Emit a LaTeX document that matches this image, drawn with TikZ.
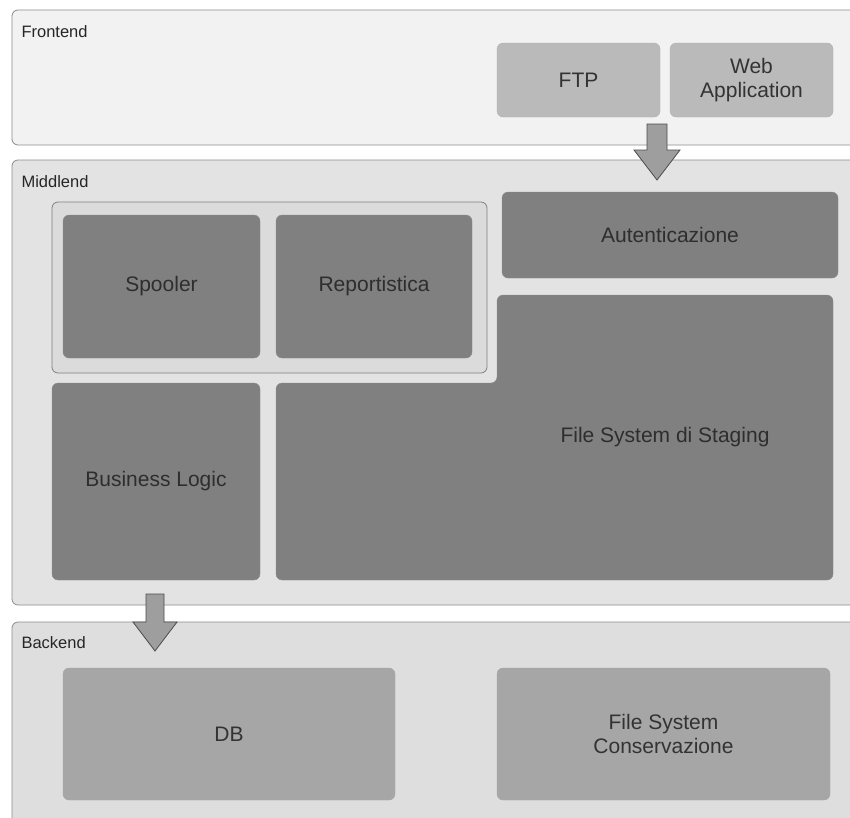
\documentclass[tikz,border=0pt]{standalone}
\usepackage{fontspec}
\setmainfont{Liberation Sans}
\begin{document}
\begin{tikzpicture}[x=1pt,y=-1pt,
  panel/.style={draw=black!45,line width=0.8pt,rounded corners=6pt},
  plabel/.style={anchor=west,font=\fontsize{16.5}{18}\selectfont,text=black!85},
  lightbox/.style={draw=black!30,fill=black!27,rounded corners=6pt},
  darkbox/.style={draw=black!45,fill=black!50,rounded corners=6pt},
  midbox/.style={draw=black!35,fill=black!35,rounded corners=6pt},
  btext/.style={font=\fontsize{21}{24}\selectfont,align=center,text=black!80},
  dtext/.style={font=\fontsize{21}{24}\selectfont,align=center,text=black!82},
  barrow/.style={draw=black!70,fill=black!38,line width=0.8pt,line join=miter}]
\useasboundingbox (0,0) rectangle (850,817);
\fill[white] (0,0) rectangle (850,817);
% Frontend
\path[panel,fill=black!5] (12,10) rectangle (856,145);
\node[plabel] (fe) at (18,32) {Frontend};
\path[lightbox] (497,43) rectangle (660,117);
\node[btext] (ftp) at (578.5,80) {FTP};
\path[lightbox] (670,43) rectangle (833,117);
\node[btext] (web) at (751.5,80) {Web\\Application};
% Middlend
\path[panel,fill=black!11] (12,160) rectangle (856,605);
\node[plabel] (me) at (18,182) {Middlend};
\path[draw=black!50,fill=black!14,rounded corners=6pt,line width=0.8pt] (52,202) rectangle (487,373);
\path[darkbox] (63,215) rectangle (260,358);
\node[dtext] (spooler) at (161.5,286.5) {Spooler};
\path[darkbox] (276,215) rectangle (472,358);
\node[dtext] (report) at (374,286.5) {Reportistica};
\path[darkbox] (502,192) rectangle (838,278);
\node[dtext] (auth) at (670,235) {Autenticazione};
\path[darkbox] (497,295) -- (833,295) -- (833,580) -- (276,580) -- (276,383) -- (497,383) -- cycle;
\node[dtext] (staging) at (665,437) {File System di Staging};
\path[darkbox] (52,383) rectangle (260,580);
\node[dtext] (bl) at (156,481) {Business Logic};
% Backend
\path[panel,fill=black!13] (12,622) rectangle (856,830);
\node[plabel] (be) at (18,643) {Backend};
\path[midbox] (63,668) rectangle (395,800);
\node[btext] (db) at (229,734) {DB};
\path[midbox] (497,668) rectangle (830,800);
\node[btext] (fsc) at (663.5,734) {File System\\Conservazione};
% arrows
\coordinate (a1) at (657,124);
\draw[barrow] (a1) ++(-10,0) -- ++(0,26) -- ++(-13,0) -- ++(23,30) -- ++(23,-30) -- ++(-13,0) -- ++(0,-26) -- cycle;
\coordinate (a2) at (155,594);
\draw[barrow] (a2) ++(-9,0) -- ++(0,28) -- ++(-13,0) -- ++(22,29) -- ++(22,-29) -- ++(-13,0) -- ++(0,-28) -- cycle;
\end{tikzpicture}
\end{document}
